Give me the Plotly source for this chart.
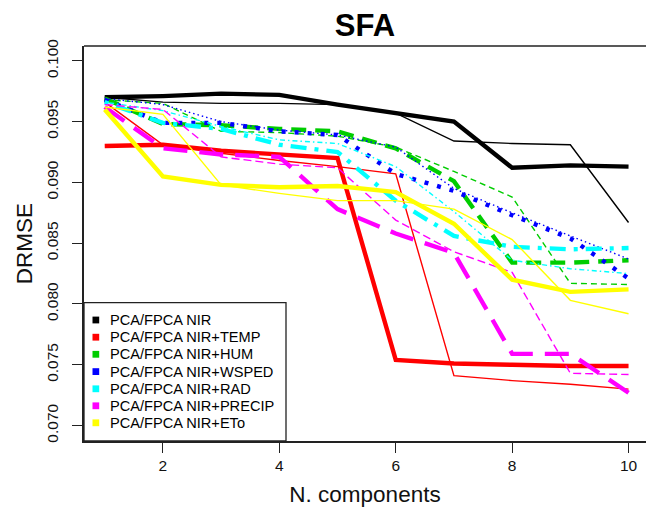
import plotly.graph_objects as go

# ---------------- data ----------------
n_components = [1, 2, 3, 4, 5, 6, 7, 8, 9, 10]

series_names = ["PCA/FPCA NIR", "PCA/FPCA NIR+TEMP", "PCA/FPCA NIR+HUM",
                "PCA/FPCA NIR+WSPED", "PCA/FPCA NIR+RAD", "PCA/FPCA NIR+PRECIP",
                "PCA/FPCA NIR+ETo"]

nir_pca = [0.0970, 0.0971, 0.0973, 0.0972, 0.0964, 0.0957, 0.0950, 0.0912, 0.0914, 0.0913]
nir_fpca = [0.0970, 0.0966, 0.0965, 0.0965, 0.0964, 0.0957, 0.0934, 0.0932, 0.0931, 0.0867]
temp_pca = [0.0930, 0.0931, 0.0926, 0.0923, 0.0920, 0.0754, 0.0751, 0.0750, 0.0749, 0.0749]
temp_fpca = [0.0966, 0.0931, 0.0924, 0.0918, 0.0913, 0.0907, 0.0741, 0.0737, 0.0734, 0.0730]
hum_pca = [0.0969, 0.0948, 0.0947, 0.0944, 0.0942, 0.0928, 0.0901, 0.0834, 0.0834, 0.0836]
hum_fpca = [0.0968, 0.0965, 0.0942, 0.0941, 0.0938, 0.0929, 0.0909, 0.0888, 0.0817, 0.0816]
wsped_pca = [0.0968, 0.0949, 0.0949, 0.0942, 0.0939, 0.0907, 0.0893, 0.0873, 0.0854, 0.0821]
wsped_fpca = [0.0969, 0.0964, 0.0950, 0.0943, 0.0939, 0.0929, 0.0895, 0.0875, 0.0856, 0.0837]
rad_pca = [0.0966, 0.0949, 0.0944, 0.0931, 0.0925, 0.0885, 0.0856, 0.0847, 0.0845, 0.0846]
rad_fpca = [0.0966, 0.0959, 0.0946, 0.0935, 0.0932, 0.0913, 0.0876, 0.0836, 0.0829, 0.0825]
precip_pca = [0.0962, 0.0928, 0.0923, 0.0921, 0.0878, 0.0858, 0.0842, 0.0759, 0.0759, 0.0727]
precip_fpca = [0.0964, 0.0960, 0.0921, 0.0915, 0.0912, 0.0869, 0.0843, 0.0826, 0.0743, 0.0742]
eto_pca = [0.0960, 0.0905, 0.0898, 0.0896, 0.0897, 0.0892, 0.0866, 0.0820, 0.0810, 0.0812]
eto_fpca = [0.0962, 0.0956, 0.0898, 0.0891, 0.0885, 0.0885, 0.0878, 0.0853, 0.0803, 0.0792]

x_ticks = [2, 4, 6, 8, 10]
y_ticks = [0.070, 0.075, 0.080, 0.085, 0.090, 0.095, 0.100]

# ---------------- styles ----------------
colors = ["#000000", "#FF0000", "#00CD00", "#0000FF", "#00FFFF", "#FF00FF", "#FFFF00"]
thick_dash = ["solid", "solid", "15px,9px", "4px,9px", "4px,8px,16px,8px", "24px,12px", "solid"]
thin_dash = ["solid", "solid", "6px,4px", "1.5px,3px", "1.5px,3px,5px,3px", "8px,4px", "solid"]
THICK_W = 4.4
THIN_W = 1.4

pairs = [(nir_pca, nir_fpca), (temp_pca, temp_fpca), (hum_pca, hum_fpca),
         (wsped_pca, wsped_fpca), (rad_pca, rad_fpca), (precip_pca, precip_fpca),
         (eto_pca, eto_fpca)]

FONT = "Liberation Sans, Arial, Helvetica, sans-serif"
W, H = 646, 509
ML, MR, MT, MB = 84, 0, 46, 68
PW, PH = W - ML - MR, H - MT - MB

fig = go.Figure()
for i, (pca, fpca) in enumerate(pairs):
    fig.add_trace(go.Scatter(x=n_components, y=pca, mode="lines",
                             name=series_names[i] + " (PCA)", showlegend=False,
                             line=dict(color=colors[i], width=THICK_W, dash=thick_dash[i])))
    fig.add_trace(go.Scatter(x=n_components, y=fpca, mode="lines",
                             name=series_names[i] + " (FPCA)", showlegend=False,
                             line=dict(color=colors[i], width=THIN_W, dash=thin_dash[i])))


def px_x(px):
    return (px - ML) / PW


def px_y(py):
    return (H - MB - py) / PH


shapes = []
annotations = []
# top border of the box (right edge lies outside the picture)
shapes.append(dict(type="line", xref="paper", yref="paper", x0=0, x1=1, y0=1, y1=1,
                   line=dict(color="#222222", width=1.5), layer="above"))

# legend box
shapes.append(dict(type="rect", xref="paper", yref="paper",
                   x0=px_x(84), x1=px_x(286), y0=px_y(441), y1=px_y(302.7),
                   fillcolor="white", line=dict(color="#222222", width=1.3), layer="above"))
row_y = [320, 337.2, 354.3, 371.6, 388.8, 405.8, 422.8]
for i, name in enumerate(series_names):
    cy = row_y[i]
    shapes.append(dict(type="rect", xref="paper", yref="paper",
                       x0=px_x(92.5), x1=px_x(99.2), y0=px_y(cy + 3.4), y1=px_y(cy - 3.4),
                       fillcolor=colors[i], line=dict(width=0), layer="above"))
    annotations.append(dict(text=name, xref="paper", yref="paper",
                            x=px_x(108.5), y=px_y(cy), xanchor="left", yanchor="middle",
                            showarrow=False, borderpad=0,
                            font=dict(family=FONT, size=14.6, color="#000000")))

fig.update_layout(
    width=W, height=H,
    margin=dict(l=ML, r=MR, t=MT, b=MB, pad=0),
    paper_bgcolor="white", plot_bgcolor="white",
    font=dict(family=FONT, color="#111111"),
    title=dict(text="SFA", x=(ML + PW / 2) / W, xanchor="center",
               y=1 - 25.5 / H, yanchor="middle", xref="container", yref="container",
               font=dict(family=FONT, size=31, weight="bold", color="#000000")),
    showlegend=False,
    shapes=shapes,
    annotations=annotations,
)

fig.update_xaxes(
    range=[0.644, 10.30], tickmode="array", tickvals=x_ticks,
    ticktext=[str(t) for t in x_ticks],
    showgrid=False, zeroline=False,
    showline=True, linecolor="#222222", linewidth=1.5, mirror=False,
    ticks="outside", ticklen=10, tickwidth=1.3, tickcolor="#222222",
    tickfont=dict(family=FONT, size=15.5, color="#111111"),
    title=dict(text="N. components", font=dict(family=FONT, size=22.5, color="#111111"),
               standoff=13),
)
fig.update_yaxes(
    range=[0.06873, 0.10122], tickmode="array", tickvals=y_ticks,
    ticktext=["%.3f" % t for t in y_ticks], tickangle=-90,
    ticklabelstandoff=8,
    showgrid=False, zeroline=False,
    showline=True, linecolor="#222222", linewidth=1.5, mirror=False,
    ticks="outside", ticklen=10, tickwidth=1.3, tickcolor="#222222",
    tickfont=dict(family=FONT, size=15.5, color="#111111"),
    title=dict(text="DRMSE", font=dict(family=FONT, size=22.5, color="#111111"),
               standoff=5),
)

fig.write_html("out.html")
